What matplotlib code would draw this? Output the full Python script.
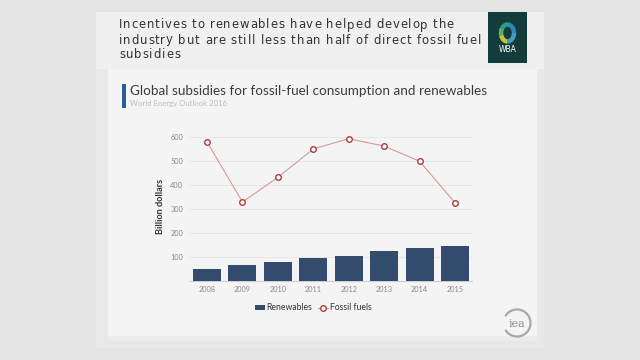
import matplotlib
matplotlib.use("Agg")
import matplotlib.pyplot as plt
from matplotlib.patches import Rectangle, Arc
from matplotlib.lines import Line2D
from matplotlib.font_manager import FontProperties
import numpy as np

years = ["2008", "2009", "2010", "2011", "2012", "2013", "2014", "2015"]
renewables = [49, 67, 79, 95, 105, 124, 139, 147]
fossil_fuels = [580, 329, 432, 550, 593, 562, 499, 326]
y_ticks = [100, 200, 300, 400, 500, 600]

header_lines = ["Incentives to renewables have helped develop the",
                "industry but are still less than half of direct fossil fuel",
                "subsidies"]
chart_title = "Global subsidies for fossil-fuel consumption and renewables"
chart_sub = "World Energy Outlook 2016"

W, H = 640, 360
DPI = 100
fig = plt.figure(figsize=(6.4, 3.6), dpi=DPI)
fig.patch.set_facecolor("#e4e4e4")
T = fig.dpi_scale_trans

def ix(x):
    return x / DPI

def iy(y):
    return (H - y) / DPI

def fx(x):
    return x / W

def fy(y):
    return 1 - y / H

def rect(x0, y0, x1, y1, color, z=0):
    fig.patches.append(Rectangle((ix(x0), iy(y1)), (x1 - x0) / DPI, (y1 - y0) / DPI,
                                 transform=T, facecolor=color,
                                 edgecolor="none", zorder=z))

# slide
rect(96, 12, 544, 348, "#e8e8e8", z=0)
rect(96, 12, 544, 69, "#f0f0f0", z=0.1)
# chart panel
rect(108, 69, 537, 341, "#f4f4f4", z=0.3)
rect(108, 336, 537, 341, "#ececec", z=0.35)

# header text with letter tracking
renderer = fig.canvas.get_renderer()
hprops = FontProperties(family="DejaVu Sans", size=8.4)
def twidth(s):
    w, h, d = renderer.get_text_width_height_descent(s, hprops, ismath=False)
    return w

bar_w = twidth("|")
def adv(s):
    return twidth(s + "|") - bar_w if s else 0.0

target_w = 362.0
nat = twidth(header_lines[1])
track = (target_w - nat) / (len(header_lines[1]) - 1)
baselines = [28.5, 43.5, 58.5]
for line, yb in zip(header_lines, baselines):
    for i, ch in enumerate(line):
        if ch == " ":
            continue
        xpos = 119 + adv(line[:i]) + i * track
        fig.text(fx(xpos), fy(yb), ch, ha="left", va="baseline",
                 fontproperties=hprops, color="#333333", zorder=5)

# WBA logo
rect(488, 12, 527, 63, "#133d3b", z=1)
cx, cy = 507.5, 33
arc_specs = [(0, 70, "#2f86b8"), (70, 140, "#2a9a96"), (140, 200, "#58b06a"),
             (200, 270, "#c9c23a"), (270, 360, "#3f9ec0")]
for a0, a1, c in arc_specs:
    fig.patches.append(Arc((ix(cx), iy(cy)), 13 / DPI, 17 / DPI, theta1=a0, theta2=a1,
                           transform=T, color=c, lw=3.2, zorder=2))
fig.text(fx(507.5), fy(50), "WBA", ha="center", va="center", fontsize=5.5,
         color="white", family="DejaVu Sans", zorder=3)

# chart title
rect(122, 84, 126, 108, "#2e5c98", z=1)
fig.text(fx(130), fy(91), chart_title, ha="left", va="center", fontsize=9.7,
         family="Lato", color="#3c3c3c", zorder=5)
fig.text(fx(130), fy(103.5), chart_sub, ha="left", va="center", fontsize=5.6,
         family="Lato", color="#bdbdbd", zorder=5)

# axes
ymax = 620
y0px = 281
pxper = 0.24
top_px = y0px - ymax * pxper
ax = fig.add_axes([fx(190), fy(y0px), fx(472 - 190), (y0px - top_px) / H])
ax.set_facecolor("none")
ax.set_zorder(4)
x = np.arange(len(years))
ax.bar(x, renewables, width=0.79, color="#334b6c", zorder=3)
ax.plot(x, fossil_fuels, color="#d49a9a", lw=0.8, zorder=4,
        marker="o", markersize=4, markerfacecolor="white",
        markeredgecolor="#b03a3a", markeredgewidth=1.0)
ax.set_xlim(-0.48, len(years) - 0.52)
ax.set_ylim(0, ymax)
ax.set_yticks(y_ticks)
ax.set_xticks(x)
ax.set_xticklabels(years)
ax.grid(axis="y", color="#e4e4e4", lw=0.6, zorder=0)
for s in ["top", "right", "left"]:
    ax.spines[s].set_visible(False)
ax.spines["bottom"].set_color("#cfcfcf")
ax.spines["bottom"].set_linewidth(0.8)
ax.tick_params(axis="y", length=0, labelsize=5.3, labelcolor="#8a8a8a", pad=5)
ax.tick_params(axis="x", length=0, labelsize=5.3, labelcolor="#8a8a8a", pad=3.5)
for lbl in ax.get_xticklabels() + ax.get_yticklabels():
    lbl.set_family("Lato")
ax.set_ylabel("Billion dollars", fontsize=6.6, family="Lato", fontweight="bold",
              color="#333333", labelpad=3.5)

handles = [Rectangle((0, 0), 1, 1, facecolor="#334b6c"),
           Line2D([], [], color="#d49a9a", lw=0.8, marker="o", markersize=4,
                  markerfacecolor="white", markeredgecolor="#b03a3a",
                  markeredgewidth=1.0)]
leg = fig.legend(handles, ["Renewables", "Fossil fuels"], loc="center",
                 bbox_to_anchor=(fx(313), fy(308)), ncol=2, frameon=False,
                 prop={"family": "Lato", "size": 6.2}, handlelength=1.2,
                 handleheight=0.5, handletextpad=0.2, columnspacing=0.6)
for t in leg.get_texts():
    t.set_color("#333333")

# iea logo
fig.patches.append(Arc((ix(517), iy(323)), 27 / DPI, 27 / DPI, theta1=-150, theta2=150,
                       transform=T, color="#a8a8a8", lw=1.6, zorder=5))
fig.text(fx(517), fy(324), "iea", ha="center", va="center", fontsize=8,
         family="DejaVu Serif", color="#8f8f8f", zorder=6)

fig.savefig("out.png", dpi=DPI, facecolor=fig.get_facecolor())
